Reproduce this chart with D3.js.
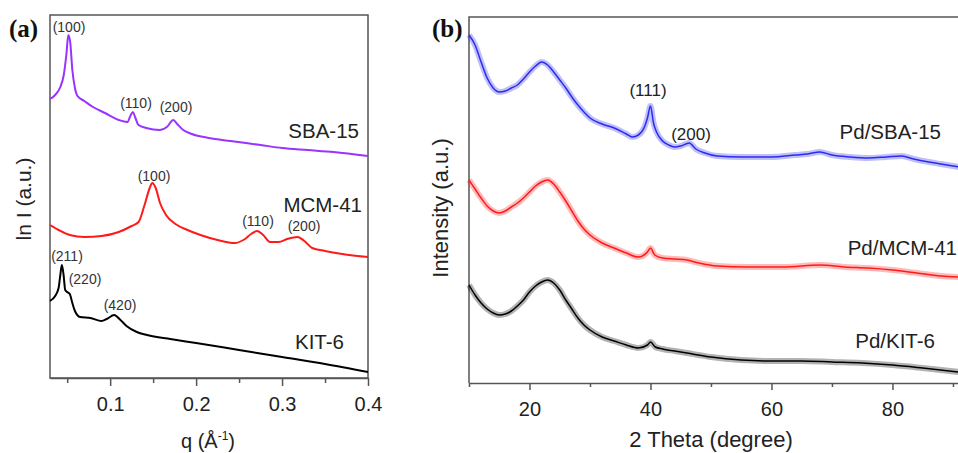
<!DOCTYPE html>
<html><head><meta charset="utf-8">
<script src="https://cdn.jsdelivr.net/npm/d3@7"></script>
<style>body{margin:0;background:#fff}svg{display:block}</style>
</head><body>
<svg id="c" width="958" height="453"></svg>
<script>
// ---------- Panel (a) data: [q, ln I (a.u.)] ----------
const qTicks = [0.1, 0.2, 0.3, 0.4];
const qMinor = [0.05, 0.15, 0.25, 0.35];
const sba15 = [[0.030,279],[0.036,283],[0.042,291],[0.046,303],[0.049,323],[0.0513,343],[0.0535,336],[0.056,308],[0.059,290],[0.062,282],[0.070,277],[0.080,271],[0.094,265],[0.110,258],[0.120,256],[0.124,263],[0.1265,266],[0.129,261],[0.133,253],[0.142,250],[0.158,248],[0.166,251],[0.1735,258],[0.178,254],[0.185,248],[0.195,244],[0.215,240],[0.240,237],[0.275,233],[0.300,230],[0.330,228],[0.360,226],[0.400,222]];
const mcm41 = [[0.030,153],[0.040,148],[0.053,143],[0.070,141],[0.090,142],[0.110,146],[0.125,152],[0.133,156],[0.140,173],[0.146,190],[0.149,195],[0.153,190],[0.158,175],[0.165,163],[0.176,154],[0.190,148],[0.205,143],[0.225,138],[0.245,135],[0.255,138],[0.264,144],[0.271,147],[0.278,143],[0.286,136],[0.296,136],[0.306,139],[0.318,141],[0.326,137],[0.335,130],[0.350,127],[0.370,124],[0.400,121]];
const kit6 = [[0.030,77],[0.036,82],[0.040,90],[0.042,103],[0.0438,113],[0.0458,103],[0.0477,88],[0.050,86],[0.053,84],[0.056,75],[0.059,67],[0.065,61],[0.077,60],[0.090,57],[0.096,59],[0.1047,63],[0.112,58],[0.119,52],[0.131,46],[0.143,43],[0.170,39],[0.200,35],[0.250,28],[0.300,21],[0.350,14],[0.400,6]];
const aSeries = [
  {name:"SBA-15", data:sba15, color:"#9933ff"},
  {name:"MCM-41", data:mcm41, color:"#ff1a1a"},
  {name:"KIT-6", data:kit6, color:"#000000"}
];
const aPeaks = [
  {t:"(100)", x:69, y:32}, {t:"(110)", x:136, y:108}, {t:"(200)", x:176, y:112},
  {t:"(100)", x:154, y:181}, {t:"(110)", x:258, y:226}, {t:"(200)", x:304, y:231},
  {t:"(211)", x:67, y:261}, {t:"(220)", x:85, y:284}, {t:"(420)", x:120, y:310}
];

// ---------- Panel (b) data: [2 theta, intensity (a.u.)] ----------
const tTicks = [20, 40, 60, 80];
const tMinor = [10, 30, 50, 70, 90];
const pdSBA = [[10,348],[11,338],[12,321],[13,305],[14,295],[15,291],[16,292],[17,295],[18,298],[19,304],[20,311],[21,317],[22,321],[23,318],[24,311],[25,303],[26,295],[27,286],[28,278],[29,271],[30,265],[32,259],[34,255],[36,249],[37,246],[38,248],[39,256],[39.5,265],[40,277],[40.5,260],[41,251],[42,242],[43,238],[44,236],[45,237],[46.4,240],[47.5,234],[49,230],[51,227],[55,226],[60,226],[64,228],[66,229],[68,231],[70,228],[73,226],[76,225],[79,226],[81.5,227],[83.5,224],[86,221],[88,219],[91,216]];
const pdMCM = [[10,203],[11,194],[12,185],[13,177],[14,172],[15,170],[16,172],[17,176],[18,180],[19,185],[20,191],[21,197],[22,201],[23,203],[24,199],[25,191],[26,182],[27,172],[28,162],[29,154],[30,148],[32,140],[34,135],[36,130],[38,126],[39.5,131],[40,135],[40.7,128],[42,125],[44,124],[46,123],[48,120],[51,117],[56,116],[62,116],[68,118],[72,116],[76,115],[80,113],[84,110],[88,107],[91,106]];
const pdKIT = [[10,98],[11,88],[12,80],[13,74],[14,70],[15,68],[16,69],[17,72],[18,77],[19,83],[20,91],[21,97],[22,101],[23,103],[24,100],[25,93],[26,83],[27,74],[28,65],[29,58],[30,53],[32,46],[34,42],[36,38],[38,35],[39.5,38],[40,41],[40.8,36],[42,34],[44,32],[46,30],[50,26],[55,23],[60,22],[65,22],[70,21],[75,20],[80,18],[85,15],[91,11]];
const bSeries = [
  {name:"Pd/SBA-15", data:pdSBA, color:"#2b2bf0"},
  {name:"Pd/MCM-41", data:pdMCM, color:"#ff1a1a"},
  {name:"Pd/KIT-6", data:pdKIT, color:"#000000"}
];
const bPeaks = [{t:"(111)", x:648, y:96}, {t:"(200)", x:691, y:140}];

const SANS = "'Liberation Sans', Arial, sans-serif";
const SERIF = "'Liberation Serif', 'Times New Roman', serif";
const svg = d3.select("#c").style("font-family", SANS);
const frame = "#555";

// ===== Panel (a) =====
const xa = d3.scaleLinear().domain([0.03, 0.4]).range([50, 368]);
const ya = d3.scaleLinear().domain([0, 363]).range([378, 15]);
const ga = svg.append("g");
ga.append("rect").attr("x",50).attr("y",15).attr("width",318).attr("height",363)
  .attr("fill","none").attr("stroke",frame).attr("stroke-width",1.5);
const axA = ga.append("g").attr("transform","translate(0,378)")
  .call(d3.axisBottom(xa).tickValues(qTicks).tickSize(8).tickSizeOuter(0).tickFormat(d3.format(".1f")));
ga.append("g").attr("transform","translate(0,378)")
  .call(d3.axisBottom(xa).tickValues(qMinor).tickSize(5).tickSizeOuter(0).tickFormat(""))
  .call(g=>g.select(".domain").remove());
ga.selectAll(".tick line").attr("stroke",frame).attr("stroke-width",1.5);
axA.select(".domain").attr("stroke",frame).attr("stroke-width",1.5);
axA.selectAll(".tick text").style("font-size","20px").style("font-family",SANS).attr("fill","#222").attr("dy","1.1em");
const lineA = d3.line().x(d=>xa(d[0])).y(d=>ya(d[1])).curve(d3.curveMonotoneX);
aSeries.forEach(s=>{
  ga.append("path").attr("d",lineA(s.data)).attr("fill","none")
    .attr("stroke",s.color).attr("stroke-width",2).attr("stroke-linejoin","round");
});
ga.selectAll("text.pk").data(aPeaks).enter().append("text").attr("class","pk")
  .attr("x",d=>d.x).attr("y",d=>d.y).attr("text-anchor","middle")
  .style("font-size","14px").attr("fill","#333").text(d=>d.t);
const aNames = [{t:"SBA-15",x:359,y:138},{t:"MCM-41",x:362,y:212},{t:"KIT-6",x:344,y:349}];
ga.selectAll("text.nm").data(aNames).enter().append("text").attr("class","nm")
  .attr("x",d=>d.x).attr("y",d=>d.y).attr("text-anchor","end").style("font-size","20.5px")
  .attr("fill","#222").text(d=>d.t);
ga.append("text").attr("x",9).attr("y",37).style("font-family",SERIF)
  .style("font-weight","bold").style("font-size","25px").attr("fill","#111").text("(a)");
ga.append("text").attr("transform","translate(31,199) rotate(-90)").attr("text-anchor","middle")
  .style("font-size","21px").attr("fill","#222").text("ln I (a.u.)");
const qlab = ga.append("text").attr("x",208).attr("y",448).attr("text-anchor","middle")
  .style("font-size","20px").attr("fill","#222");
qlab.append("tspan").text("q (Å");
qlab.append("tspan").style("font-size","12px").attr("dy",-8).text("-1");
qlab.append("tspan").attr("dy",8).text(")");

// ===== Panel (b) =====
const xb = d3.scaleLinear().domain([10, 91]).range([469, 959]);
const yb = d3.scaleLinear().domain([0, 366]).range([383, 17]);
const gb = svg.append("g");
gb.append("path").attr("d","M469,383V17H960").attr("fill","none").attr("stroke",frame).attr("stroke-width",1.5);
const axB = gb.append("g").attr("transform","translate(0,383)")
  .call(d3.axisBottom(xb).tickValues(tTicks).tickSize(7).tickSizeOuter(0));
gb.append("g").attr("transform","translate(0,383)")
  .call(d3.axisBottom(xb).tickValues(tMinor).tickSize(4).tickSizeOuter(0).tickFormat(""))
  .call(g=>g.select(".domain").remove());
gb.selectAll(".tick line").attr("stroke",frame).attr("stroke-width",1.5);
axB.select(".domain").attr("stroke",frame).attr("stroke-width",1.5);
axB.selectAll(".tick text").style("font-size","20px").style("font-family",SANS).attr("fill","#222").attr("dy","1.15em");
const lineB = d3.line().x(d=>xb(d[0])).y(d=>yb(d[1])).curve(d3.curveMonotoneX);
bSeries.forEach(s=>{
  gb.append("path").attr("d",lineB(s.data)).attr("fill","none")
    .attr("stroke",s.color).attr("stroke-opacity",0.3).attr("stroke-width",6).attr("stroke-linejoin","round");
  gb.append("path").attr("d",lineB(s.data)).attr("fill","none")
    .attr("stroke",s.color).attr("stroke-width",1.5).attr("stroke-linejoin","round");
});
gb.selectAll("text.pk").data(bPeaks).enter().append("text").attr("class","pk")
  .attr("x",d=>d.x).attr("y",d=>d.y).attr("text-anchor","middle")
  .style("font-size","17px").attr("fill","#222").text(d=>d.t);
const bNames = [{t:"Pd/SBA-15",x:941,y:139},{t:"Pd/MCM-41",x:957,y:255},{t:"Pd/KIT-6",x:935,y:348}];
gb.selectAll("text.nm").data(bNames).enter().append("text").attr("class","nm")
  .attr("x",d=>d.x).attr("y",d=>d.y).attr("text-anchor","end").style("font-size","20.5px")
  .attr("fill","#222").text(d=>d.t);
gb.append("text").attr("x",432).attr("y",37).style("font-family",SERIF)
  .style("font-weight","bold").style("font-size","25px").attr("fill","#111").text("(b)");
gb.append("text").attr("transform","translate(448,208) rotate(-90)").attr("text-anchor","middle")
  .style("font-size","22px").attr("fill","#222").text("Intensity (a.u.)");
gb.append("text").attr("x",711).attr("y",447).attr("text-anchor","middle")
  .style("font-size","22px").attr("fill","#222").text("2 Theta (degree)");
</script>
</body></html>
